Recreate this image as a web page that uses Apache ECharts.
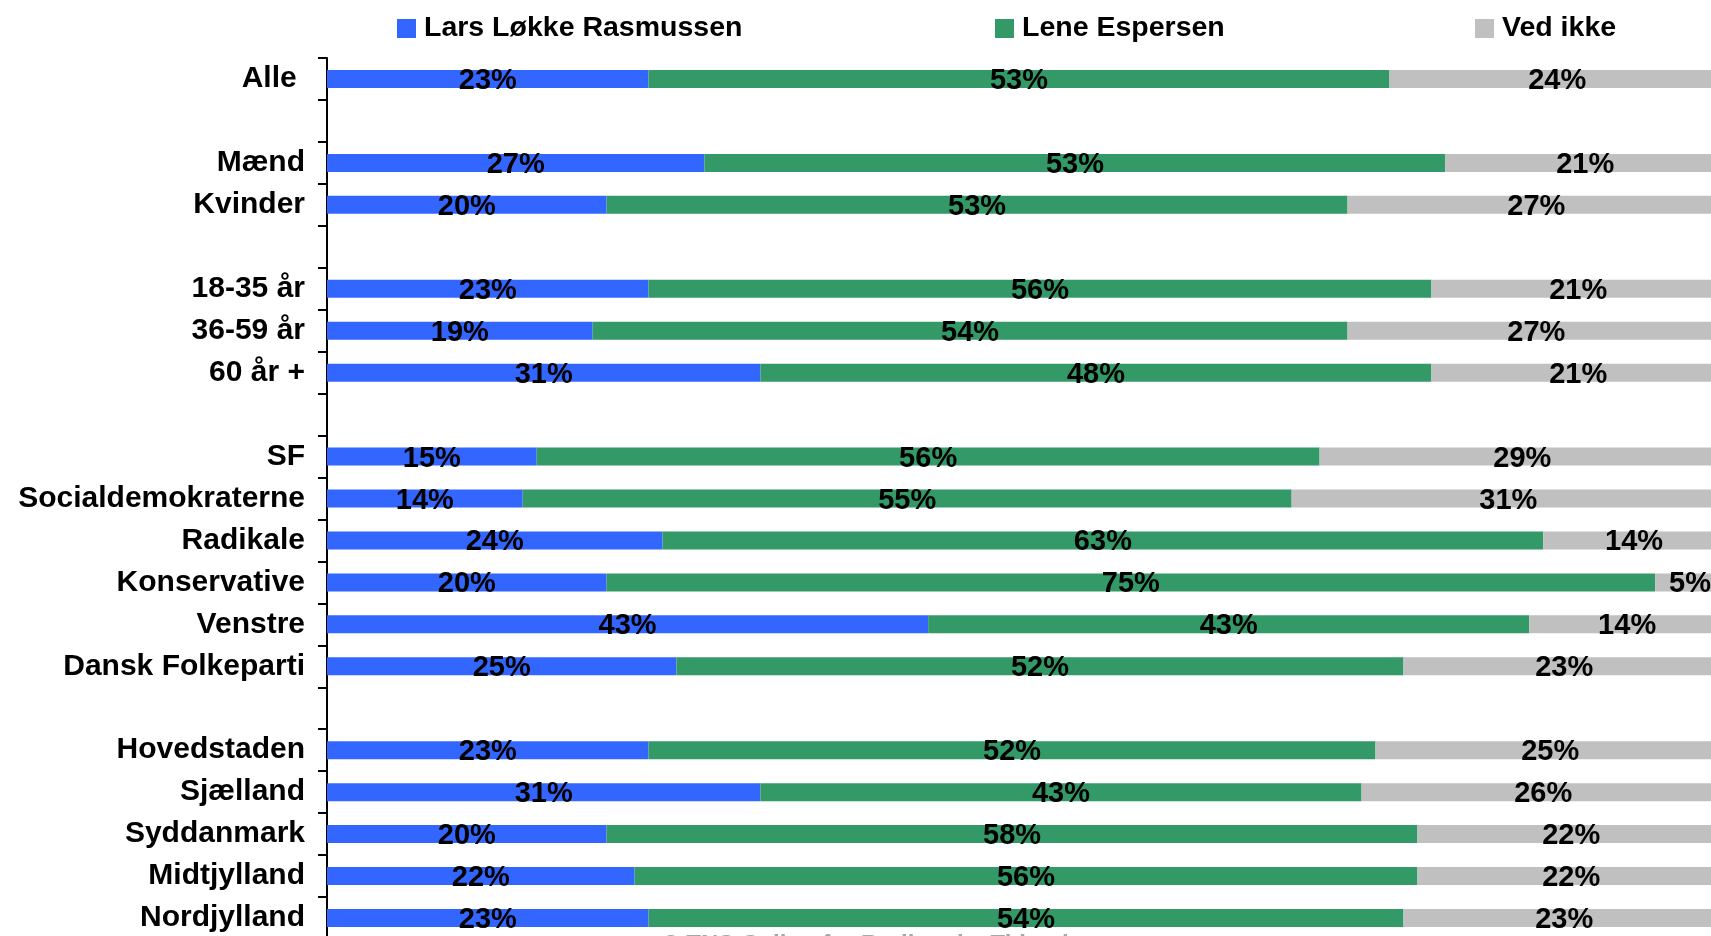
<!DOCTYPE html>
<html><head><meta charset="utf-8">
<script src="https://cdn.jsdelivr.net/npm/echarts/dist/echarts.min.js"></script>
<style>html,body{margin:0;padding:0;overflow:hidden;background:#fff;width:1711px;height:936px}#c{width:1725px;height:940px}</style>
</head><body><div id="c"></div><script>
const categories = ['Alle ', '', 'Mænd', 'Kvinder', ' ', '18-35 år', '36-59 år', '60 år +', '  ', 'SF', 'Socialdemokraterne', 'Radikale', 'Konservative', 'Venstre', 'Dansk Folkeparti', '   ', 'Hovedstaden', 'Sjælland', 'Syddanmark', 'Midtjylland', 'Nordjylland'];
const seriesNames = ['Lars Løkke Rasmussen', 'Lene Espersen', 'Ved ikke'];
const larsValues   = [23,'-',27,20,'-',23,19,31,'-',15,14,24,20,43,25,'-',23,31,20,22,23];
const leneValues   = [53,'-',53,53,'-',56,54,48,'-',56,55,63,75,43,52,'-',52,43,58,56,54];
const vedIkkeValues= [24,'-',21,27,'-',21,27,21,'-',29,31,14,5,14,23,'-',25,26,22,22,23];
const colors = ['#3366FF', '#339966', '#C0C0C0'];
const sourceNote = '© TNS Gallup for Berlingske Tidende';

const FONT = '"Liberation Sans", Arial, Helvetica, sans-serif';
const chart = echarts.init(document.getElementById('c'), null, {renderer: 'canvas'});
const allValues = [larsValues, leneValues, vedIkkeValues];
const legendLefts = [397, 995, 1475];

const option = {
  animation: false,
  backgroundColor: '#fff',
  color: colors,
  legend: seriesNames.map((n, i) => ({
    data: [n], left: legendLefts[i], top: 14, padding: 0, icon: 'rect',
    itemWidth: 19, itemHeight: 19,
    textStyle: {fontFamily: FONT, fontWeight: 'bold', fontSize: 28.5, color: '#000', padding: [0, 0, 0, 3]}
  })),
  grid: {left: 327, right: 0, top: 58, bottom: 1},
  xAxis: {type: 'value', min: 0, max: 100, show: false},
  yAxis: {
    type: 'category', data: categories, inverse: true,
    axisLine: {show: true, lineStyle: {color: '#000', width: 2}},
    axisTick: {show: true, interval: 0, length: 9, lineStyle: {color: '#000', width: 2}},
    axisLabel: {interval: 0, margin: 22, padding: [4, 0, 0, 0], fontFamily: FONT, fontWeight: 'bold', fontSize: 30, color: '#000'}
  },
  series: seriesNames.map((n, i) => ({
    name: n, type: 'bar', stack: 'total', barWidth: 18,
    data: allValues[i],
    itemStyle: {color: colors[i]},
    label: {show: true, position: 'inside', offset: [0, 2], formatter: p => p.value + '%',
      fontFamily: FONT, fontWeight: 'bold', fontSize: 29, color: '#000'}
  })),
  graphic: [{
    type: 'text', left: 662, top: 933,
    style: {text: sourceNote, fontFamily: FONT, fontWeight: 'bold', fontSize: 24, fill: '#a6a6a6'}
  }]
};
chart.setOption(option);
</script></body></html>
